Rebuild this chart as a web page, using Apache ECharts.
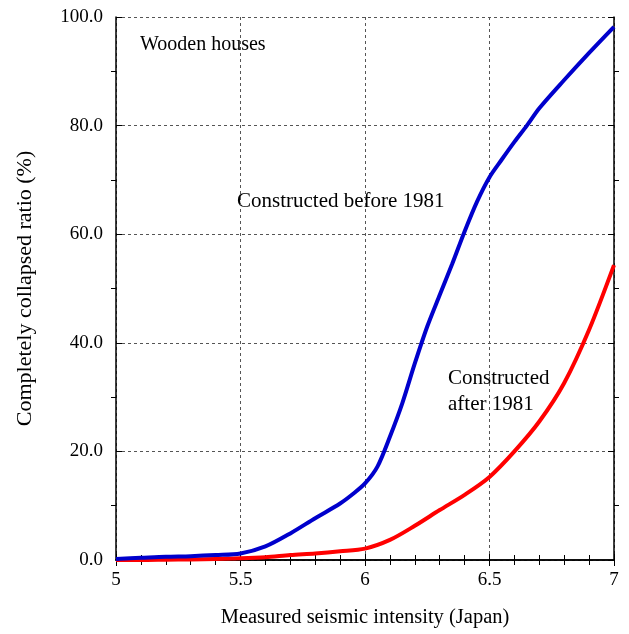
<!DOCTYPE html>
<html>
<head>
<meta charset="utf-8">
<script src="https://cdn.jsdelivr.net/npm/echarts@6/dist/echarts.min.js"></script>
<style>
  html, body { margin: 0; padding: 0; background: #fff; }
  #chart { width: 629px; height: 634px; }
</style>
</head>
<body>
<div id="chart"></div>
<script>
// intensity values (x) and collapse ratio (%)
var beforeX = [5.0, 5.1, 5.2, 5.3, 5.4, 5.5, 5.6, 5.7, 5.8, 5.9, 5.95, 6.0, 6.05, 6.1, 6.15, 6.2, 6.25, 6.3, 6.35, 6.4, 6.45, 6.5, 6.55, 6.6, 6.65, 6.7, 6.8, 6.9, 7.0];
var beforeY = [0.2, 0.4, 0.6, 0.7, 0.9, 1.2, 2.5, 4.9, 7.7, 10.4, 12.1, 14.1, 17.2, 22.7, 28.9, 36.2, 43.0, 48.8, 54.5, 60.5, 66.0, 70.5, 73.8, 77.0, 80.0, 83.2, 88.4, 93.4, 98.2];

var afterX = [5.0, 5.1, 5.2, 5.3, 5.4, 5.5, 5.6, 5.7, 5.8, 5.9, 6.0, 6.1, 6.2, 6.3, 6.4, 6.5, 6.6, 6.7, 6.8, 6.9, 7.0];
var afterY = [0, 0, 0.05, 0.1, 0.2, 0.3, 0.5, 0.9, 1.2, 1.6, 2.1, 3.7, 6.3, 9.2, 12.0, 15.3, 20.0, 25.5, 32.6, 42.4, 54.3];

var xTicks = [5, 5.5, 6, 6.5, 7];
var yTicks = [0, 20, 40, 60, 80, 100];

function pairs(xs, ys) {
    return xs.map(function (x, i) { return [x, ys[i]]; });
}

var font = 'Liberation Serif';
var myChart = echarts.init(document.getElementById('chart'));

var tickStyle = { inside: true, length: 6, lineStyle: { color: '#000', width: 1 } };
// minor ticks are flipped to the inside with a negative length
var minorStyle = { show: true, length: -5, lineStyle: { color: '#000', width: 1 } };
var gridLine = { show: true, lineStyle: { color: '#555', width: 1, type: [3, 3] } };

var option = {
    animation: false,
    backgroundColor: '#fff',
    grid: { left: 116, right: 15, top: 17, bottom: 74 },
    xAxis: [
        {
            type: 'value',
            min: xTicks[0], max: xTicks[xTicks.length - 1], interval: 0.5,
            name: 'Measured seismic intensity (Japan)',
            nameLocation: 'middle', nameGap: 47,
            nameTextStyle: { fontFamily: font, fontSize: 20.5, color: '#000' },
            axisLine: { lineStyle: { color: '#000', width: 1.5 } },
            axisTick: tickStyle,
            minorTick: Object.assign({ splitNumber: 5 }, minorStyle),
            splitLine: gridLine,
            axisLabel: {
                fontFamily: font, fontSize: 19, color: '#000', margin: 11,
                formatter: function (v) { return String(v); }
            }
        },
        {
            type: 'value', position: 'top',
            min: xTicks[0], max: xTicks[xTicks.length - 1], interval: 0.5,
            axisLine: { show: true, lineStyle: { color: '#000', width: 1.5 } },
            axisTick: tickStyle,
            minorTick: Object.assign({ splitNumber: 5 }, minorStyle),
            splitLine: { show: false },
            axisLabel: { show: false }
        }
    ],
    yAxis: [
        {
            type: 'value',
            min: yTicks[0], max: yTicks[yTicks.length - 1], interval: 20,
            name: 'Completely collapsed ratio (%)',
            nameLocation: 'middle', nameGap: 80,
            nameTextStyle: { fontFamily: font, fontSize: 22, color: '#000' },
            axisLine: { show: true, lineStyle: { color: '#000', width: 1.5 } },
            axisTick: tickStyle,
            minorTick: Object.assign({ splitNumber: 2 }, minorStyle),
            splitLine: gridLine,
            axisLabel: {
                fontFamily: font, fontSize: 19, color: '#000', margin: 13,
                formatter: function (v) { return v.toFixed(1); }
            }
        },
        {
            type: 'value', position: 'right',
            min: yTicks[0], max: yTicks[yTicks.length - 1], interval: 20,
            axisLine: { show: true, lineStyle: { color: '#000', width: 1.5 } },
            axisTick: tickStyle,
            minorTick: Object.assign({ splitNumber: 2 }, minorStyle),
            splitLine: { show: false },
            axisLabel: { show: false }
        }
    ],
    graphic: [
        { type: 'text', left: 140, top: 35, style: { text: 'Wooden houses', font: '20px "Liberation Serif"', fill: '#000' } },
        { type: 'text', left: 237, top: 191, style: { text: 'Constructed before 1981', font: '21px "Liberation Serif"', fill: '#000' } },
        { type: 'text', left: 448, top: 365, style: { text: 'Constructed\nafter 1981', font: '21px "Liberation Serif"', lineHeight: 26, fill: '#000' } }
    ],
    series: [
        {
            name: 'Constructed after 1981',
            type: 'line', smooth: 0.3, symbol: 'none',
            xAxisIndex: 0, yAxisIndex: 0,
            lineStyle: { color: '#ff0000', width: 4 },
            data: pairs(afterX, afterY)
        },
        {
            name: 'Constructed before 1981',
            type: 'line', smooth: 0.3, symbol: 'none',
            xAxisIndex: 0, yAxisIndex: 0,
            lineStyle: { color: '#0000cc', width: 4 },
            data: pairs(beforeX, beforeY)
        }
    ]
};

myChart.setOption(option);
</script>
</body>
</html>
